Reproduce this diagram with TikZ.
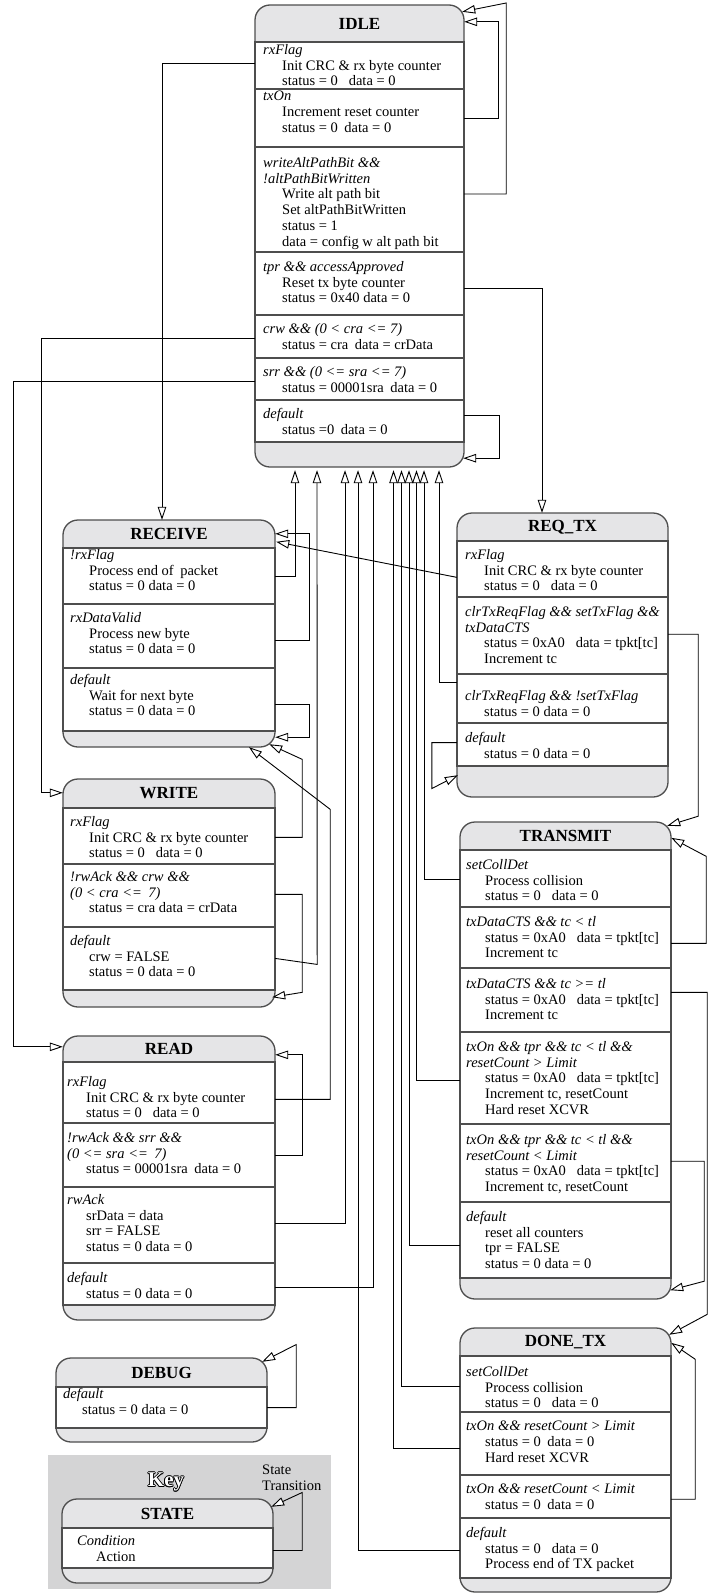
\documentclass[tikz,border=0pt]{standalone}
\usepackage{fontspec}
\setmainfont{Liberation Serif}
\usetikzlibrary{arrows.meta,fit,calc}

\definecolor{headgray}{RGB}{229,229,231}
\definecolor{keygray}{RGB}{212,212,213}
\definecolor{edgegray}{RGB}{78,78,78}

\tikzset{
  boxline/.style={draw=edgegray, line width=1.3pt},
  stitle/.style={font=\fontsize{17}{20}\selectfont\bfseries, inner sep=0},
  cond/.style={anchor=north west, inner sep=0, align=left,
    font=\fontsize{14.5}{15.75}\selectfont, execute at begin node=\strut},
  keyfont/.style={font=\fontsize{21}{24}\selectfont\bfseries, inner sep=0},
  trans/.style={line width=0.9pt, -{Triangle[length=13pt,width=8.5pt,fill=white]}},
}
\newcommand{\act}{\hspace*{19pt}}
\newcommand{\gap}{\hspace{0.75em}}
\newcommand{\sgap}{\hspace{0.45em}}
% name, left, top, right, bottom, header line, footer line, title
\newcommand{\stbox}[8]{%
  \draw[boxline, fill=headgray, rounded corners=15pt] (#2,#3) rectangle (#4,#5);
  \draw[boxline, fill=white] (#2,#6) rectangle (#4,#7);
  \node[fit={(#2,#3) (#4,#5)}, inner sep=0] (#1) {};
  \node[stitle] (#1-t) at ({(#2+#4)/2},{(#3+#6)/2}) {#8};
}

\begin{document}
\begin{tikzpicture}[x=1pt,y=-1pt]
\useasboundingbox (0,0) rectangle (708,1593);

% Key panel
\fill[keygray] (48,1455) rectangle (331,1589);
\foreach \a in {0,45,...,315}
  \node[keyfont, text=black] (key-o\a) at ($(166,1482)+(\a:0.8)$) {Key};
\node[keyfont, text=white] (key-t) at (166,1482) {Key};
\node[cond] (key-lbl) at (262,1465) {State\\Transition};

% States
\stbox{idle}{255}{5}{464}{467}{42}{442}{IDLE}
\stbox{recv}{63}{520}{275}{747}{548}{731}{RECEIVE}
\stbox{write}{63}{779}{275}{1007}{808}{990}{WRITE}
\stbox{read}{63}{1036}{275}{1320}{1062}{1305}{READ}
\stbox{dbg}{56}{1358}{267}{1442}{1387}{1428}{DEBUG}
\stbox{rqtx}{457}{513}{668}{797}{541}{766}{REQ\_TX}
\stbox{tx}{460}{822}{671}{1299}{850}{1278}{TRANSMIT}
\stbox{done}{460}{1328}{671}{1592}{1356}{1578}{DONE\_TX}
\stbox{keyst}{62}{1499}{273}{1583}{1528}{1568}{STATE}

% Row separators
\foreach \y in {89,147,252,315,358,400} \draw[boxline] (255,\y) -- (464,\y);
\foreach \y in {604,668,864,927,1123,1187,1263} \draw[boxline] (63,\y) -- (275,\y);
\foreach \y in {597,674,723} \draw[boxline] (457,\y) -- (668,\y);
\foreach \y in {907,968,1032,1124,1202,1412,1475,1518} \draw[boxline] (460,\y) -- (671,\y);

% IDLE rows
\node[cond] (idle-rx) at (263,44) {\textit{rxFlag}\\\act Init CRC \& rx byte counter\\\act status = 0\gap data = 0};
\node[cond] (idle-tx) at (263,91) {\textit{txOn}\\\act Increment reset counter\\\act status = 0\sgap data = 0};
\node[cond] (idle-wr) at (263,157) {\textit{writeAltPathBit \&\&}\\\textit{!altPathBitWritten}\\\act Write alt path bit\\\act Set altPathBitWritten\\\act status = 1\\\act data = config w alt path bit};
\node[cond] (idle-tpr) at (263,261) {\textit{tpr \&\& accessApproved}\\\act Reset tx byte counter\\\act status = 0x40 data = 0};
\node[cond] (idle-crw) at (263,323) {\textit{crw \&\& (0 < cra <= 7)}\\\act status = cra\sgap data = crData};
\node[cond] (idle-srr) at (263,366) {\textit{srr \&\& (0 <= sra <= 7)}\\\act status = 00001sra\sgap data = 0};
\node[cond] (idle-def) at (263,408) {\textit{default}\\\act status =0\sgap data = 0};

% RECEIVE rows
\node[cond] (recv-rx) at (70,549) {\textit{!rxFlag}\\\act Process end of\sgap packet\\\act status = 0 data = 0};
\node[cond] (recv-dv) at (70,612) {\textit{rxDataValid}\\\act Process new byte\\\act status = 0 data = 0};
\node[cond] (recv-def) at (70,674) {\textit{default}\\\act Wait for next byte\\\act status = 0 data = 0};

% WRITE rows
\node[cond] (wr-rx) at (70,816) {\textit{rxFlag}\\\act Init CRC \& rx byte counter\\\act status = 0\gap data = 0};
\node[cond] (wr-crw) at (70,871) {\textit{!rwAck \&\& crw \&\&}\\\textit{(0 < cra <=\sgap 7)}\\\act status = cra data = crData};
\node[cond] (wr-def) at (70,935) {\textit{default}\\\act crw = FALSE\\\act status = 0 data = 0};

% READ rows
\node[cond] (rd-rx) at (67,1076) {\textit{rxFlag}\\\act Init CRC \& rx byte counter\\\act status = 0\gap data = 0};
\node[cond] (rd-srr) at (67,1132) {\textit{!rwAck \&\& srr \&\&}\\\textit{(0 <= sra <=\sgap 7)}\\\act status = 00001sra\sgap data = 0};
\node[cond] (rd-ack) at (67,1194) {\textit{rwAck}\\\act srData = data\\\act srr = FALSE\\\act status = 0 data = 0};
\node[cond] (rd-def) at (67,1272) {\textit{default}\\\act status = 0 data = 0};

% DEBUG and key rows
\node[cond] (dbg-def) at (63,1388) {\textit{default}\\\act status = 0 data = 0};
\node[cond] (key-row) at (77,1535) {\textit{Condition}\\\act Action};

% REQ_TX rows
\node[cond] (rq-rx) at (465,549) {\textit{rxFlag}\\\act Init CRC \& rx byte counter\\\act status = 0\gap data = 0};
\node[cond] (rq-tx) at (465,606) {\textit{clrTxReqFlag \&\& setTxFlag \&\&}\\\textit{txDataCTS}\\\act status = 0xA0\gap data = tpkt[tc]\\\act Increment tc};
\node[cond] (rq-clr) at (465,690) {\textit{clrTxReqFlag \&\& !setTxFlag}\\\act status = 0 data = 0};
\node[cond] (rq-def) at (465,732) {\textit{default}\\\act status = 0 data = 0};

% TRANSMIT rows
\node[cond] (tx-col) at (466,859) {\textit{setCollDet}\\\act Process collision\\\act status = 0\gap data = 0};
\node[cond] (tx-lt) at (466,916) {\textit{txDataCTS \&\& tc < tl}\\\act status = 0xA0\gap data = tpkt[tc]\\\act Increment tc};
\node[cond] (tx-ge) at (466,978) {\textit{txDataCTS \&\& tc >= tl}\\\act status = 0xA0\gap data = tpkt[tc]\\\act Increment tc};
\node[cond] (tx-rsg) at (466,1041) {\textit{txOn \&\& tpr \&\& tc < tl \&\&}\\\textit{resetCount > Limit}\\\act status = 0xA0\gap data = tpkt[tc]\\\act Increment tc, resetCount\\\act Hard reset XCVR};
\node[cond] (tx-rsl) at (466,1134) {\textit{txOn \&\& tpr \&\& tc < tl \&\&}\\\textit{resetCount < Limit}\\\act status = 0xA0\gap data = tpkt[tc]\\\act Increment tc, resetCount};
\node[cond] (tx-def) at (466,1211) {\textit{default}\\\act reset all counters\\\act tpr = FALSE\\\act status = 0 data = 0};

% DONE_TX rows
\node[cond] (dn-col) at (466,1366) {\textit{setCollDet}\\\act Process collision\\\act status = 0\gap data = 0};
\node[cond] (dn-rsg) at (466,1421) {\textit{txOn \&\& resetCount > Limit}\\\act status = 0\sgap data = 0\\\act Hard reset XCVR};
\node[cond] (dn-rsl) at (466,1484) {\textit{txOn \&\& resetCount < Limit}\\\act status = 0\sgap data = 0};
\node[cond] (dn-def) at (466,1527) {\textit{default}\\\act status = 0\gap data = 0\\\act Process end of TX packet};

% entry point under IDLE
\coordinate (idle-in) at ($(idle.south)+(0,3)$);

% Transitions out of IDLE
\draw[trans] ($(idle.west |- idle-rx)+(0,-4)$) -| ([xshift=-7pt]recv.north);
\draw[trans] ($(idle.east |- idle-tx)+(0,4)$) -- ++(34,0) |- ($(idle.north east)+(0,17)$);
\draw[trans] ($(idle.east |- idle-wr)+(0,-10)$) -- ++(42,0) -- ++(0,-191) -- ($(idle.north east)+(-2,7)$);
\draw[trans] ($(idle.east |- idle-tpr)+(0,4)$) -| ([xshift=-20.5pt]rqtx.north);
\draw[trans] (idle.west |- idle-crw) -- ++(-213,0) |- ($(write.north west)+(0,14)$);
\draw[trans] (idle.west |- idle-srr) -- ++(-241,0) |- ($(read.north west)+(0,11)$);
\draw[trans] ($(idle.east |- idle-def)+(0,-8)$) -- ++(35,0) |- ($(idle.south east)+(-1,-9)$);

% RECEIVE
\draw[trans] ($(recv.east |- recv-rx)+(0,4)$) -| ([xshift=-64.5pt]idle-in);
\draw[trans] ($(recv.east |- recv-dv)+(0,5)$) -- ++(34,0) |- ($(recv.north east)+(0,14)$);
\draw[trans] ($(recv.east |- recv-def)+(0,7)$) -- ++(34,0) |- ($(recv.south east)+(0,-10)$);

% WRITE
\draw[trans] ($(write.east |- wr-rx)+(0,-2)$) -- ++(27,0) -- ++(0,-78) -- ($(recv.south east)+(-6,-3)$);
\draw[trans] (write.east |- wr-crw) -- ++(27,0) -- ++(0,98) -- ($(write.south east)+(-3,-10)$);
\draw[trans] (write.east |- wr-def) -- ++(42,6) -- ([xshift=-42.5pt]idle-in);

% READ
\draw[trans] (read.east |- rd-rx) -- ++(55,0) -- ++(0,-290) -- ($(recv.south)+(80,0)$);
\draw[trans] (read.east |- rd-srr) -- ++(27,0) |- ($(read.north east)+(0,19)$);
\draw[trans] ($(read.east |- rd-ack)+(0,-2)$) -| ([xshift=-14.5pt]idle-in);
\draw[trans] (read.east |- rd-def) -| ([xshift=13.5pt]idle-in);

% DEBUG and key loops
\draw[trans] ($(dbg.east |- dbg-def)+(0,4)$) -- ++(29,0) -- ++(0,-63) -- ($(dbg.north east)+(-5,4)$);
\draw[trans] (keyst.east |- key-row) -- ++(29,0) -- ++(0,-58) -- ($(keyst.north east)+(-2,8)$);

% REQ_TX
\draw[trans] ($(rqtx.west |- rq-rx)+(0,5)$) -- ($(recv.north east)+(1,22)$);
\draw[trans] ($(rqtx.east |- rq-tx)+(0,-3)$) -- ++(30,0) -- ++(0,182) -- ($(tx.north east)+(-4,4)$);
\draw[trans] ($(rqtx.west |- rq-clr)+(0,-23)$) -| ([xshift=79.5pt]idle-in);
\draw[trans] ($(rqtx.west |- rq-def)+(0,-5)$) -- ++(-25,0) -- ++(0,46) -- ($(rqtx.south west)+(1,-22)$);

% TRANSMIT
\draw[trans] ($(tx.west |- tx-col)+(0,-3)$) -| ([xshift=64.5pt]idle-in);
\draw[trans] ($(tx.east |- tx-lt)+(0,4)$) -- ++(35,0) -- ++(0,-87) -- ($(tx.north east)+(0,16)$);
\draw[trans] ($(tx.east |- tx-ge)+(0,-9)$) -- ++(36,0) -- ++(0,322) -- ($(done.north east)+(-2,7)$);
\draw[trans] (tx.west |- tx-rsg) -| ([xshift=57pt]idle-in);
\draw[trans] ($(tx.east |- tx-rsl)+(0,-4)$) -- ++(33,0) -- ++(0,120) -- ($(tx.south east)+(-1,-9)$);
\draw[trans] ($(tx.west |- tx-def)+(0,3)$) -| ([xshift=49.5pt]idle-in);

% DONE_TX
\draw[trans] ($(done.west |- dn-col)+(0,-3)$) -| ([xshift=42pt]idle-in);
\draw[trans] ($(done.west |- dn-rsg)+(0,4)$) -| ([xshift=34pt]idle-in);
\draw[trans] (done.east |- dn-rsl) -- ++(24,0) -- ++(0,-140) -- ($(done.north east)+(0,15)$);
\draw[trans] (done.west |- dn-def) -| ([xshift=-1.5pt]idle-in);
\end{tikzpicture}
\end{document}
